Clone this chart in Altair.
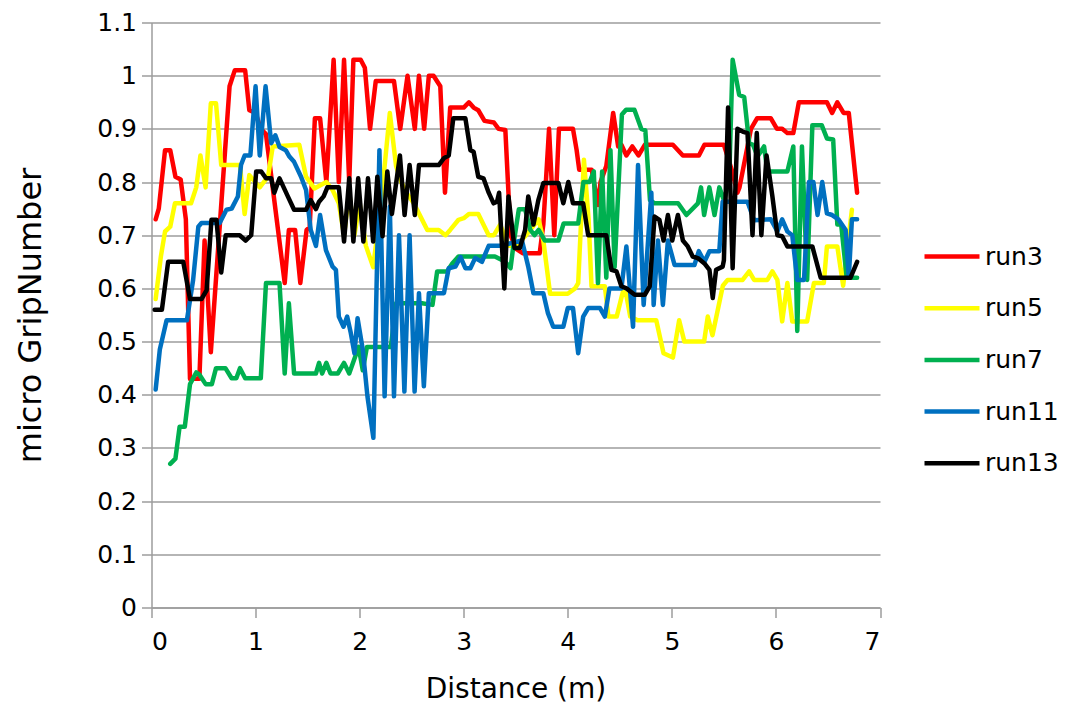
import altair as alt
import pandas as pd

runs = ["run3", "run5", "run7", "run11", "run13"]
run_colors = ["#FF0000", "#FFFF00", "#00B050", "#0070C0", "#000000"]
x_ticks = [0, 1, 2, 3, 4, 5, 6, 7]
y_ticks = [0, 0.1, 0.2, 0.3, 0.4, 0.5, 0.6, 0.7, 0.8, 0.9, 1.0, 1.1]

run3_x = [0.04, 0.07, 0.13, 0.18, 0.23, 0.28, 0.33, 0.37, 0.46, 0.51, 0.57, 0.70, 0.75, 0.80, 0.90, 0.94,
          1.00, 1.05, 1.10, 1.28, 1.32, 1.38, 1.43, 1.49, 1.52, 1.57, 1.62, 1.68, 1.75, 1.80, 1.85, 1.90,
          1.94, 2.01, 2.05, 2.10, 2.155, 2.33, 2.39, 2.46, 2.53, 2.57, 2.62, 2.665, 2.71, 2.775, 2.82, 2.87,
          3.00, 3.05, 3.095, 3.14, 3.20, 3.29, 3.335, 3.40, 3.45, 3.50, 3.57, 3.73, 3.765, 3.82, 3.87, 3.915,
          4.05, 4.085, 4.11, 4.23, 4.29, 4.315, 4.37, 4.436, 4.484, 4.515, 4.563, 4.62, 4.68, 4.74, 5.01,
          5.106, 5.26, 5.313, 5.50, 5.58, 5.63, 5.65, 5.76, 5.82, 5.95, 6.01, 6.06, 6.11, 6.167, 6.22, 6.49,
          6.54, 6.59, 6.65, 6.70, 6.78]
run3_y = [0.73, 0.75, 0.86, 0.86, 0.81, 0.805, 0.73, 0.43, 0.43, 0.69, 0.48, 0.84, 0.98, 1.01, 1.01, 0.935,
          0.93, 0.90, 0.89, 0.61, 0.71, 0.71, 0.61, 0.71, 0.715, 0.92, 0.92, 0.80, 1.03, 0.80, 1.03, 0.80,
          1.03, 1.03, 1.015, 0.90, 0.99, 0.99, 0.90, 1.00, 0.90, 1.00, 0.90, 1.00, 1.00, 0.98, 0.78, 0.94,
          0.94, 0.95, 0.94, 0.935, 0.915, 0.912, 0.90, 0.898, 0.70, 0.675, 0.666, 0.666, 0.72, 0.90, 0.70, 0.90,
          0.90, 0.86, 0.823, 0.823, 0.757, 0.80, 0.83, 0.93, 0.867, 0.87, 0.85, 0.867, 0.85, 0.87, 0.87,
          0.85, 0.85, 0.87, 0.87, 0.82, 0.78, 0.79, 0.90, 0.92, 0.92, 0.90, 0.90, 0.892, 0.892, 0.95, 0.95,
          0.93, 0.95, 0.93, 0.93, 0.78]

run5_x = [0.04, 0.09, 0.13, 0.18, 0.225, 0.38, 0.43, 0.47, 0.52, 0.57, 0.62, 0.67, 0.85, 0.895, 0.94, 1.04,
          1.12, 1.165, 1.42, 1.485, 1.565, 1.68, 1.74, 1.80, 1.85, 1.90, 1.95, 2.00, 2.06, 2.13, 2.20, 2.29,
          2.35, 2.40, 2.45, 2.52, 2.585, 2.65, 2.76, 2.825, 2.87, 2.95, 3.00, 3.05, 3.14, 3.24, 3.29, 3.35,
          3.43, 3.50, 3.60, 3.72, 3.765, 3.83, 4.00, 4.07, 4.10, 4.13, 4.155, 4.20, 4.228, 4.356, 4.39, 4.47,
          4.53, 4.56, 4.60, 4.67, 4.85, 4.92, 5.01, 5.07, 5.12, 5.31, 5.345, 5.39, 5.49, 5.536, 5.68, 5.743,
          5.79, 5.918, 5.966, 6.014, 6.06, 6.11, 6.157, 6.30, 6.365, 6.46, 6.49, 6.59, 6.646, 6.73]
run5_y = [0.58, 0.66, 0.707, 0.716, 0.76, 0.76, 0.79, 0.85, 0.79, 0.948, 0.948, 0.832, 0.832, 0.74, 0.813, 0.79,
          0.81, 0.867, 0.87, 0.81, 0.788, 0.80, 0.785, 0.76, 0.70, 0.78, 0.70, 0.76, 0.68, 0.64, 0.75, 0.93,
          0.83, 0.80, 0.78, 0.76, 0.735, 0.71, 0.71, 0.70, 0.71, 0.729, 0.732, 0.74, 0.74, 0.70, 0.70, 0.72,
          0.68, 0.68, 0.70, 0.73, 0.69, 0.59, 0.59, 0.60, 0.61, 0.735, 0.842, 0.73, 0.604, 0.604, 0.547, 0.547,
          0.594, 0.59, 0.547, 0.54, 0.54, 0.478, 0.47, 0.54, 0.50, 0.50, 0.547, 0.512, 0.605, 0.616, 0.616, 0.632,
          0.616, 0.616, 0.632, 0.616, 0.538, 0.61, 0.538, 0.538, 0.61, 0.61, 0.679, 0.679, 0.605, 0.748]

run7_x = [0.18, 0.23, 0.27, 0.32, 0.37, 0.43, 0.46, 0.52, 0.58, 0.62, 0.71, 0.77, 0.815, 0.85, 0.90, 1.05,
          1.10, 1.23, 1.28, 1.32, 1.37, 1.58, 1.61, 1.64, 1.68, 1.72, 1.79, 1.85, 1.90, 1.99, 2.03, 2.07,
          2.30, 2.35, 2.60, 2.665, 2.70, 2.745, 2.84, 2.89, 2.95, 3.30, 3.40, 3.45, 3.48, 3.53, 3.59, 3.64,
          3.68, 3.72, 3.78, 3.91, 3.96, 4.10, 4.15, 4.21, 4.25, 4.29, 4.33, 4.37, 4.41, 4.45, 4.52, 4.56,
          4.64, 4.706, 4.745, 4.79, 4.834, 5.06, 5.14, 5.25, 5.28, 5.31, 5.36, 5.41, 5.456, 5.50, 5.55, 5.584,
          5.647, 5.695, 5.743, 5.78, 5.823, 5.886, 5.918, 6.11, 6.167, 6.205, 6.25, 6.30, 6.35, 6.44, 6.49, 6.55,
          6.59, 6.627, 6.68, 6.78]
run7_y = [0.27, 0.28, 0.34, 0.34, 0.42, 0.442, 0.438, 0.42, 0.42, 0.45, 0.45, 0.431, 0.431, 0.45, 0.431, 0.431,
          0.61, 0.61, 0.44, 0.572, 0.44, 0.44, 0.46, 0.44, 0.46, 0.44, 0.44, 0.46, 0.44, 0.49, 0.446, 0.49,
          0.49, 0.572, 0.572, 0.57, 0.569, 0.632, 0.632, 0.647, 0.66, 0.66, 0.65, 0.638, 0.685, 0.749, 0.749, 0.71,
          0.70, 0.71, 0.69, 0.69, 0.722, 0.722, 0.80, 0.80, 0.82, 0.61, 0.82, 0.62, 0.86, 0.64, 0.927, 0.936,
          0.936, 0.90, 0.897, 0.766, 0.76, 0.76, 0.738, 0.76, 0.79, 0.738, 0.79, 0.738, 0.79, 0.766, 0.80, 1.03,
          0.964, 0.96, 0.873, 0.87, 0.848, 0.867, 0.82, 0.82, 0.867, 0.52, 0.867, 0.616, 0.907, 0.907, 0.882, 0.88,
          0.72, 0.72, 0.62, 0.62]

run11_x = [0.04, 0.08, 0.145, 0.34, 0.40, 0.45, 0.48, 0.655, 0.72, 0.77, 0.83, 0.86, 0.895, 0.95, 1.00, 1.04,
           1.096, 1.15, 1.19, 1.23, 1.29, 1.325, 1.37, 1.437, 1.485, 1.53, 1.58, 1.62, 1.676, 1.74, 1.772, 1.80,
           1.845, 1.88, 1.915, 1.95, 1.98, 2.03, 2.075, 2.132, 2.19, 2.24, 2.29, 2.33, 2.378, 2.43, 2.48, 2.528,
           2.57, 2.617, 2.665, 2.81, 2.856, 2.92, 2.97, 3.016, 3.064, 3.11, 3.175, 3.24, 3.35, 3.45, 3.56, 3.62,
           3.67, 3.765, 3.81, 3.86, 3.957, 4.00, 4.05, 4.10, 4.148, 4.196, 4.31, 4.356, 4.40, 4.515, 4.563, 4.627,
           4.675, 4.729, 4.803, 4.825, 4.866, 4.914, 4.962, 5.026, 5.217, 5.259, 5.313, 5.361, 5.456, 5.488, 5.727, 5.79,
           5.95, 6.014, 6.06, 6.11, 6.157, 6.205, 6.27, 6.317, 6.36, 6.40, 6.445, 6.49, 6.54, 6.60, 6.67, 6.70,
           6.73, 6.78]
run11_y = [0.41, 0.485, 0.54, 0.54, 0.616, 0.716, 0.723, 0.723, 0.748, 0.75, 0.773, 0.832, 0.85, 0.85, 0.98, 0.85,
           0.98, 0.873, 0.888, 0.866, 0.86, 0.848, 0.838, 0.81, 0.785, 0.71, 0.68, 0.738, 0.672, 0.641, 0.635, 0.547,
           0.528, 0.547, 0.516, 0.478, 0.544, 0.485, 0.397, 0.319, 0.86, 0.397, 0.754, 0.397, 0.70, 0.406, 0.70, 0.406,
           0.591, 0.416, 0.591, 0.591, 0.638, 0.641, 0.659, 0.638, 0.638, 0.657, 0.65, 0.68, 0.68, 0.685, 0.69, 0.641,
           0.591, 0.591, 0.553, 0.528, 0.528, 0.563, 0.563, 0.478, 0.547, 0.563, 0.563, 0.547, 0.60, 0.60, 0.679, 0.528,
           0.832, 0.569, 0.78, 0.569, 0.69, 0.569, 0.69, 0.644, 0.644, 0.67, 0.65, 0.67, 0.67, 0.763, 0.763, 0.728,
           0.73, 0.707, 0.73, 0.707, 0.70, 0.616, 0.616, 0.80, 0.80, 0.738, 0.80, 0.741, 0.738, 0.73, 0.71, 0.62,
           0.73, 0.73]

run13_x = [0.03, 0.10, 0.16, 0.305, 0.37, 0.48, 0.53, 0.576, 0.624, 0.67, 0.713, 0.847, 0.904, 0.958, 1.006, 1.054,
           1.10, 1.15, 1.18, 1.23, 1.31, 1.37, 1.485, 1.53, 1.58, 1.61, 1.654, 1.69, 1.80, 1.85, 1.90, 1.94,
           1.986, 2.036, 2.08, 2.13, 2.17, 2.22, 2.266, 2.31, 2.387, 2.432, 2.48, 2.53, 2.57, 2.76, 2.81, 2.856,
           2.90, 3.016, 3.064, 3.095, 3.14, 3.19, 3.24, 3.287, 3.32, 3.34, 3.36, 3.39, 3.43, 3.488, 3.54, 3.59,
           3.62, 3.67, 3.717, 3.765, 3.91, 3.957, 4.005, 4.05, 4.148, 4.196, 4.37, 4.42, 4.468, 4.515, 4.563, 4.643,
           4.74, 4.787, 4.834, 4.88, 4.92, 4.962, 5.004, 5.058, 5.106, 5.153, 5.20, 5.249, 5.313, 5.361, 5.393, 5.425,
           5.488, 5.50, 5.54, 5.584, 5.63, 5.68, 5.727, 5.775, 5.816, 5.86, 5.91, 5.966, 6.014, 6.06, 6.11, 6.35,
           6.43, 6.716, 6.78]
run13_y = [0.56, 0.56, 0.65, 0.65, 0.58, 0.58, 0.597, 0.729, 0.729, 0.63, 0.70, 0.70, 0.69, 0.70, 0.82, 0.82,
           0.807, 0.807, 0.78, 0.807, 0.773, 0.748, 0.748, 0.766, 0.749, 0.763, 0.773, 0.79, 0.79, 0.688, 0.807, 0.688,
           0.807, 0.688, 0.807, 0.688, 0.81, 0.698, 0.82, 0.74, 0.85, 0.738, 0.832, 0.738, 0.832, 0.832, 0.845, 0.85,
           0.92, 0.92, 0.86, 0.857, 0.81, 0.807, 0.78, 0.76, 0.763, 0.78, 0.707, 0.60, 0.773, 0.676, 0.676, 0.71,
           0.773, 0.72, 0.766, 0.798, 0.798, 0.76, 0.80, 0.76, 0.76, 0.70, 0.70, 0.635, 0.632, 0.604, 0.60, 0.588,
           0.588, 0.604, 0.735, 0.729, 0.69, 0.738, 0.69, 0.738, 0.69, 0.679, 0.66, 0.657, 0.647, 0.635, 0.582, 0.635,
           0.641, 0.653, 0.94, 0.638, 0.90, 0.895, 0.892, 0.70, 0.892, 0.70, 0.85, 0.773, 0.70, 0.698, 0.679, 0.679,
           0.62, 0.62, 0.65]

series = {
    "run3": (run3_x, run3_y),
    "run5": (run5_x, run5_y),
    "run7": (run7_x, run7_y),
    "run11": (run11_x, run11_y),
    "run13": (run13_x, run13_y),
}

frames = []
for name in runs:
    xs, ys = series[name]
    frames.append(pd.DataFrame({"Distance": xs, "Grip": ys, "Run": name, "idx": range(len(xs))}))
df = pd.concat(frames, ignore_index=True)

FONT = "DejaVu Sans"
GRID = "#9c9c9c"

x_enc = alt.X(
    "Distance:Q",
    scale=alt.Scale(domain=[0, 7], nice=False, zero=False),
    axis=alt.Axis(
        values=x_ticks, title="Distance (m)", grid=False, tickSize=10, labelPadding=12,
        labelFont=FONT, labelFontSize=25, labelColor="#000000",
        titleFont=FONT, titleFontSize=28, titleFontWeight="normal", titleColor="#000000",
        titleX=364, titleY=82, titleBaseline="middle", titleAlign="center",
        domainColor=GRID, tickColor=GRID, domainWidth=1.5, tickWidth=1.5,
    ),
)
y_enc = alt.Y(
    "Grip:Q",
    scale=alt.Scale(domain=[0, 1.1], nice=False),
    axis=alt.Axis(
        values=y_ticks, format=".2~f", title="micro GripNumber", grid=True, tickSize=10, labelPadding=5,
        labelFont=FONT, labelFontSize=25, labelColor="#000000",
        titleFont=FONT, titleFontSize=32, titleFontWeight="normal", titleColor="#000000",
        titleAngle=270, titleX=-121.5, titleY=292.5, titleBaseline="middle", titleAlign="center",
        gridColor=GRID, gridWidth=1.5, domainColor=GRID, tickColor=GRID, domainWidth=1.5, tickWidth=1.5,
    ),
)
legend = alt.Legend(
    title=None, orient="none", legendX=770.5, legendY=219, symbolType="stroke", symbolSize=3025,
    symbolStrokeWidth=4.5, labelFont=FONT, labelFontSize=25, labelColor="#000000", clipHeight=30,
    rowPadding=21.7, labelOffset=3, padding=0, symbolOffset=0,
)
color_enc = alt.Color("Run:N", scale=alt.Scale(domain=runs, range=run_colors), legend=legend)

layers = []
for name in runs:
    layers.append(
        alt.Chart(df)
        .transform_filter(alt.datum.Run == name)
        .mark_line(strokeWidth=4.5, strokeJoin="round", strokeCap="round")
        .encode(x=x_enc, y=y_enc, color=color_enc, order="idx:Q")
    )

chart = (
    alt.layer(*layers)
    .properties(
        width=728.5, height=585,
        autosize=alt.AutoSizeParams(type="none"),
        padding={"left": 143.5, "top": 14.5, "right": 178, "bottom": 100.5},
        background="#ffffff",
    )
    .configure_view(strokeWidth=0)
)

chart.save("out.html", embed_options={"renderer": "svg", "actions": False})
